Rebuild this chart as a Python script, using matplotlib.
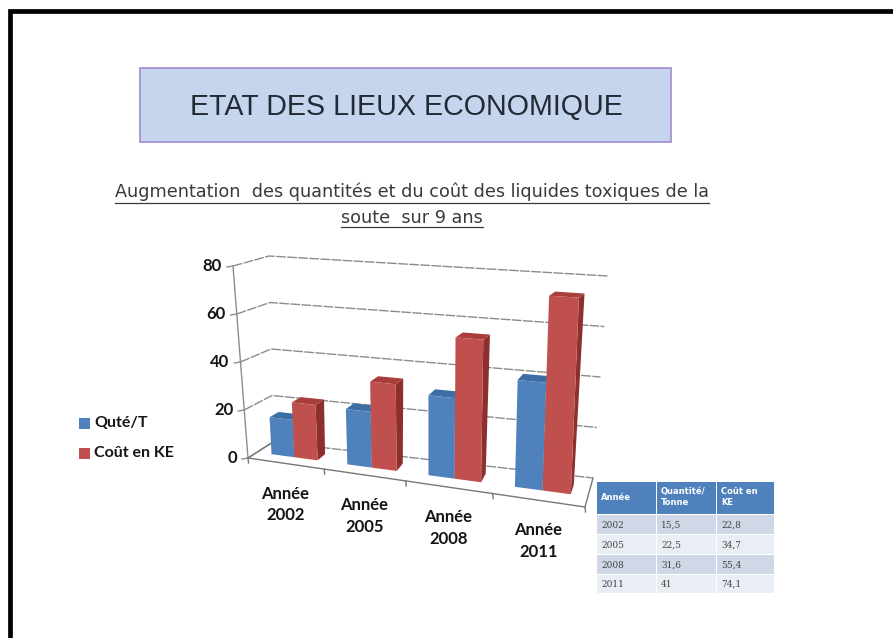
import numpy as np
import matplotlib
matplotlib.use('Agg')
import matplotlib.pyplot as plt
from matplotlib.patches import Rectangle, Polygon

categories = ['Année\n2002', 'Année\n2005', 'Année\n2008', 'Année\n2011']
qte = [15.5, 22.5, 31.6, 41]
cout = [22.8, 34.7, 55.4, 74.1]
yticks = [0, 20, 40, 60, 80]
legend_labels = ['Quté/T', 'Coût en KE']
table_header = ['Année', 'Quantité/\nTonne', 'Coût en\nKE']
table_years = ['2002', '2005', '2008', '2011']
table_qte = ['15,5', '22,5', '31,6', '41']
table_cout = ['22,8', '34,7', '55,4', '74,1']

# corners of the 3d box in pixels
FL0, FR0, BL0, BR0 = (248, 458), (585, 507), (273, 442), (593, 478)
FL8, FR8, BL8, BR8 = (233, 266), (592, 287), (269, 256), (608, 276)


def proj(u, v, d):
    # fake perspective, the k term squeezes the left categories
    k = 0.147
    s = u * (1 + k * u) / (1 + k)
    t = v / 80.0
    c = [np.array(p, dtype=float) for p in (FL0, FR0, BL0, BR0, FL8, FR8, BL8, BR8)]
    low = (1 - d) * ((1 - s) * c[0] + s * c[1]) + d * ((1 - s) * c[2] + s * c[3])
    top = (1 - d) * ((1 - s) * c[4] + s * c[5]) + d * ((1 - s) * c[6] + s * c[7])
    return (1 - t) * low + t * top


def box(ax, u0, u1, val, d0, d1, front, top, side):
    ax.add_patch(Polygon([proj(u1, 0, d0), proj(u1, 0, d1), proj(u1, val, d1), proj(u1, val, d0)],
                         fc=side, ec='none', zorder=3))
    ax.add_patch(Polygon([proj(u0, val, d0), proj(u1, val, d0), proj(u1, val, d1), proj(u0, val, d1)],
                         fc=top, ec='none', zorder=3))
    ax.add_patch(Polygon([proj(u0, 0, d0), proj(u1, 0, d0), proj(u1, val, d0), proj(u0, val, d0)],
                         fc=front, ec='none', zorder=3))


fig = plt.figure(figsize=(8.93, 6.38), dpi=100)
ax = fig.add_axes([0, 0, 1, 1])
ax.set_xlim(0, 893)
ax.set_ylim(638, 0)
ax.axis('off')
plt.rcParams['font.family'] = ['Liberation Sans', 'DejaVu Sans']

# slide frame, only top and left are in the crop
ax.plot([9.5, 9.5, 893], [638, 10.5, 10.5], color='black', lw=3.4, solid_joinstyle='miter')

# title box
ax.add_patch(Rectangle((140, 68), 531, 74, fc='#c6d5ee', ec='#a793cf', lw=1.3))
ax.text(406, 107, 'ETAT DES LIEUX ECONOMIQUE', ha='center', va='center', fontsize=20.6,
        color='#222a35', family='Liberation Sans')

# underlined subtitle
sub1 = ax.text(412, 192, 'Augmentation  des quantités et du coût des liquides toxiques de la',
               ha='center', va='center', fontsize=12.7, color='#3a3a3a', family='DejaVu Sans')
sub2 = ax.text(412, 218, 'soute  sur 9 ans', ha='center', va='center', fontsize=12.7,
               color='#3a3a3a', family='DejaVu Sans')
fig.canvas.draw()
inv = ax.transData.inverted()
for t, y in ((sub1, 203), (sub2, 227)):
    e = t.get_window_extent()
    x0 = inv.transform((e.x0, e.y0))[0]
    x1 = inv.transform((e.x1, e.y0))[0]
    ax.plot([x0, x1], [y, y], color='#3a3a3a', lw=0.9)

# grid walls
grid_c = '#8c8c8c'
for v in yticks:
    pts = np.array([proj(0, v, 0), proj(0, v, 1), proj(1, v, 1)])
    ax.plot(pts[:, 0], pts[:, 1], color=grid_c, lw=1, ls=(0, (7, 1)))
floor = np.array([proj(0, 0, 1), proj(0, 0, 0), proj(1, 0, 0), proj(1, 0, 1)])
ax.plot(floor[:, 0], floor[:, 1], color='#777777', lw=1)
axis = np.array([proj(0, 0, 0), proj(0, 80, 0)])
ax.plot(axis[:, 0], axis[:, 1], color='#8c8c8c', lw=1)

# value axis ticks and labels
for v in yticks:
    p = proj(0, v, 0)
    ax.plot([p[0] - 6, p[0]], [p[1] + 1, p[1]], color='#8c8c8c', lw=1)
    ax.text(p[0] - 11, p[1], str(v), ha='right', va='center', fontsize=12, weight='bold',
            family='Lato', color='#151515')

# category ticks and labels
n = len(categories)
for i in range(n + 1):
    p = proj(i / n, 0, 0)
    ax.plot([p[0], p[0] + 0.5], [p[1], p[1] + 5], color='#777777', lw=1)
for i, lab in enumerate(categories):
    p = proj((i + 0.5) / n, 0, 0)
    ax.text(p[0], p[1] + 41, lab, ha='center', va='center', fontsize=12, weight='bold',
            family='Lato', color='#151515', linespacing=1.45)

# bars
w = 0.077
for i in range(n):
    c = (i + 0.5) / n + 0.002
    box(ax, c - w, c, qte[i], 0.36, 0.7, '#4f81bd', '#3c6ea6', '#3a6391')
    box(ax, c, c + w, cout[i], 0.36, 0.7, '#c0504d', '#a93e3b', '#8c2f2d')

# legend
for y, col, lab in zip((423, 453), ('#4f81bd', '#c0504d'), legend_labels):
    ax.add_patch(Rectangle((79, y - 5.5), 11, 11, fc=col, ec='none'))
    ax.text(94, y, lab, ha='left', va='center', fontsize=11.5, weight='bold', family='Lato', color='#151515')

# small table
col_x = [597, 657, 717, 775]
row_y = [482, 515, 535, 555, 575, 594]
rows = list(zip(table_years, table_qte, table_cout))
for j in range(3):
    ax.add_patch(Rectangle((col_x[j], row_y[0]), col_x[j + 1] - col_x[j] - 1, row_y[1] - row_y[0] - 1,
                           fc='#4f81bd', ec='none'))
    ax.text(col_x[j] + 4, row_y[0] + 15, table_header[j], ha='left', va='center', fontsize=6,
            weight='bold', color='white', family='DejaVu Sans', linespacing=1.3)
    for r, row in enumerate(rows):
        ax.add_patch(Rectangle((col_x[j], row_y[r + 1]), col_x[j + 1] - col_x[j] - 1,
                               row_y[r + 2] - row_y[r + 1] - 1,
                               fc='#d0d8e8' if r % 2 == 0 else '#e9edf4', ec='none'))
        ax.text(col_x[j] + 4, (row_y[r + 1] + row_y[r + 2]) / 2, row[j], ha='left', va='center',
                fontsize=6.5, color='#444444', family='DejaVu Serif')

plt.savefig('out.png', dpi=100)
plt.close()
